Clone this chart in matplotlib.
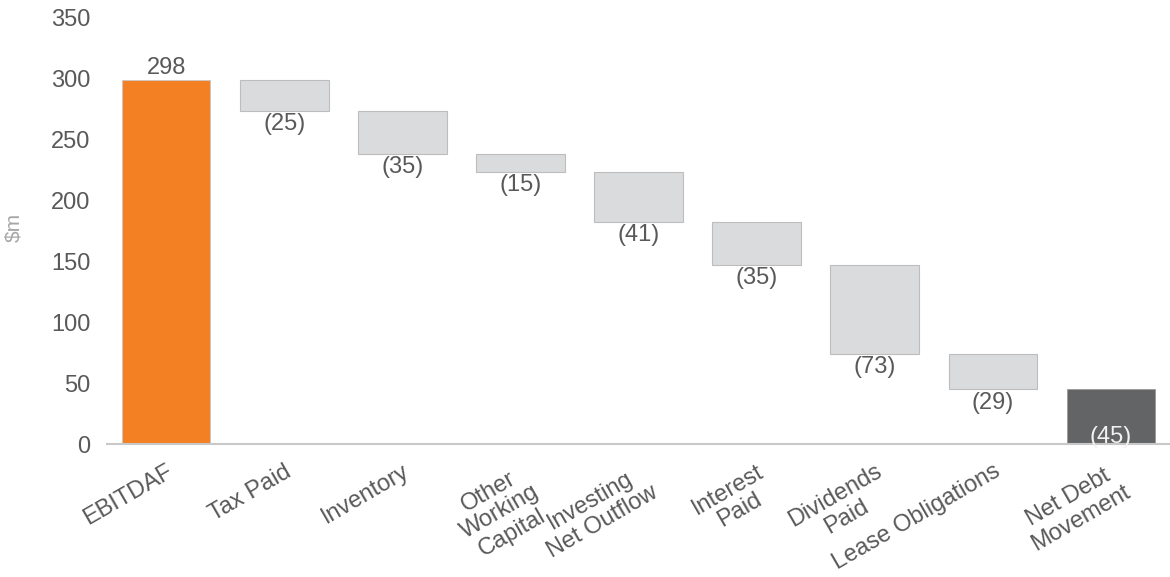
import matplotlib.pyplot as plt

plt.rcParams["font.family"] = ["Liberation Sans", "DejaVu Sans"]

# Waterfall data ($m)
categories = ["EBITDAF", "Tax Paid", "Inventory", "Other\nWorking\nCapital",
              "Investing\nNet Outflow", "Interest\nPaid", "Dividends\nPaid",
              "Lease Obligations", "Net Debt\nMovement"]
start_value = 298
changes = [-25, -35, -15, -41, -35, -73, -29]
end_value = 45

TEXT = "#595959"
ORANGE = "#F48024"
LIGHT = "#DADBDC"
DARK = "#636466"
FS = 17

fig = plt.figure(figsize=(11.7, 5.77), dpi=100)
ax = fig.add_axes([0.0915, 0.2305, 0.9085, 0.74])

x = list(range(len(categories)))
w = 0.75

# first bar
ax.bar(x[0], start_value, width=w, color=ORANGE, edgecolor="#C8C8C8", linewidth=0.6)
ax.text(x[0], start_value + 1, f"{start_value}", ha="center", va="bottom",
        fontsize=FS, color=TEXT)

# floating bars
level = start_value
for i, c in enumerate(changes, start=1):
    bottom = level + c
    ax.bar(x[i], -c, bottom=bottom, width=w, color=LIGHT, edgecolor="#BDBDBD", linewidth=0.8)
    ax.text(x[i], bottom - 2, f"({-c})", ha="center", va="top", fontsize=FS, color=TEXT)
    level = bottom

# final bar
ax.bar(x[-1], end_value, width=w, color=DARK, edgecolor="#9A9A9A", linewidth=0.6)
ax.text(x[-1], -3, f"({end_value})", ha="center", va="bottom", fontsize=FS, color="#F2F2F2")

ax.set_xlim(-0.5, len(categories) - 0.5)
ax.set_ylim(0, 350)
ax.set_yticks(range(0, 351, 50))
ax.tick_params(axis="y", length=0, labelsize=FS, labelcolor=TEXT, pad=12)
ax.tick_params(axis="x", length=0, pad=12)
ax.set_xticks(x)
ax.set_xticklabels(categories, rotation=30, ha="right", rotation_mode="anchor",
                   fontsize=FS, color=TEXT, multialignment="center", linespacing=1.1)

for s in ["top", "right", "left"]:
    ax.spines[s].set_visible(False)
ax.spines["bottom"].set_color("#C8C8C8")
ax.spines["bottom"].set_linewidth(1.5)

fig.text(0.012, 0.605, "$m", rotation=90, fontsize=15, color="#A6A6A6",
         ha="center", va="center")

fig.savefig("out.png", dpi=100)
